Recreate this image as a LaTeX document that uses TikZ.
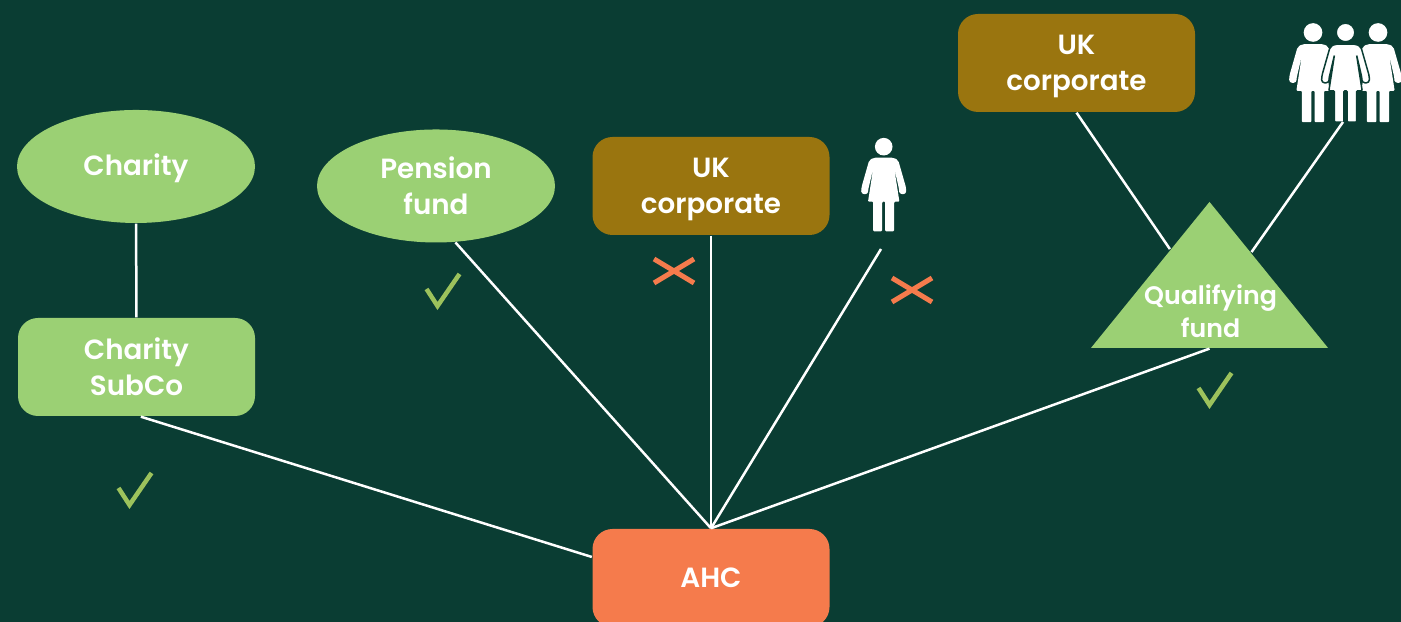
\documentclass[tikz,border=0pt]{standalone}
\usepackage{fontspec}
\setmainfont{Poppins}[BoldFont={Poppins SemiBold}]
\usetikzlibrary{shapes.geometric,calc}
\definecolor{bgcol}{HTML}{0A3D33}
\definecolor{leaf}{HTML}{9BD074}
\definecolor{tickcol}{HTML}{9CC25C}
\definecolor{ochre}{HTML}{9A750F}
\definecolor{coral}{HTML}{F57B4C}
\tikzset{
  lbl/.style={text=white,font=\fontsize{7.9}{10.2}\selectfont\bfseries,align=center,inner sep=0pt,text depth=0pt},
  round/.style={lbl,ellipse,fill=leaf,minimum width=2.38cm,minimum height=1.13cm},
  leafbox/.style={lbl,rectangle,rounded corners=0.2cm,fill=leaf,minimum width=2.37cm,minimum height=0.98cm},
  ochrebox/.style={leafbox,fill=ochre,text depth=-0.05cm},
  coralbox/.style={leafbox,fill=coral,text depth=-0.05cm},
  fundtri/.style={isosceles triangle,shape border rotate=90,isosceles triangle stretches,
    fill=leaf,minimum width=2.37cm,minimum height=1.46cm,inner sep=0pt},
  link/.style={white,line width=0.025cm},
  woman/.pic={
    \path[pic actions] (0,0) circle (0.088);
    \path[pic actions,rounded corners=0.02cm] (-0.10,-0.11)--(0.10,-0.11)--(0.145,-0.135)
      --(0.225,-0.415)[rounded corners=0.03cm]--(0.225,-0.475)--(0.155,-0.475)--(0.155,-0.43)[rounded corners=0.01cm]
      --(0.105,-0.215)--(0.157,-0.55)--(0.105,-0.55)--(0.105,-0.846)--(0.015,-0.846)--(0.015,-0.55)
      --(-0.015,-0.55)--(-0.015,-0.846)--(-0.105,-0.846)--(-0.105,-0.55)--(-0.157,-0.55)--(-0.105,-0.215)
      --(-0.155,-0.43)[rounded corners=0.03cm]--(-0.155,-0.475)--(-0.225,-0.475)--(-0.225,-0.415)
      [rounded corners=0.02cm]--(-0.145,-0.135)--cycle;
  },
  yes/.pic={\draw[tickcol,line width=0.045cm] (-0.11,0.17)--(0,0)--(0.22,0.32);},
  no/.pic={\draw[coral,line width=0.05cm] (-0.2,0.12)--(0.2,-0.12) (-0.2,-0.12)--(0.2,0.12);}
}
\begin{document}
\begin{tikzpicture}
\fill[bgcol] (0,0) rectangle (14.01,6.22);
\useasboundingbox (0,0) rectangle (14.01,6.22);
\clip (0,0) rectangle (14.01,6.22);

% top row
\node[round,text depth=0.04cm] (charity) at (1.36,4.555) {Charity};
\node[round,text depth=-0.03cm] (pension) at (4.36,4.36) {Pension\\fund};
\node[ochrebox] (corpa) at (7.11,4.36) {UK\\corporate};
\node[ochrebox] (corpb) at (10.765,5.59) {UK\\corporate};
\node[leafbox,text depth=-0.02cm] (subco) at (1.365,2.55) {Charity\\SubCo};
\node[coralbox] (ahc) at (7.11,0.44) {AHC};

% fund
\node[fundtri] (fund) at (12.095,3.305) {};
\node[lbl,font=\fontsize{7.2}{9.2}\selectfont\bfseries] (fundlbl) at (12.105,3.11) {Qualifying\\fund};

% people
\pic[fill=white] at (8.837,4.753) {woman};
\pic[fill=white,transform shape,scale=1.06] at (13.13,5.895) {woman};
\pic[fill=white,transform shape,scale=1.06] at (13.78,5.895) {woman};
\pic[fill=white,draw=bgcol,line width=0.015cm,transform shape,scale=1.06] at (13.455,5.895) {woman};
\coordinate (womanfoot) at (8.81,3.73);
\coordinate (crowdfoot) at (13.43,5.0);

% links
\draw[link] (charity)--(subco);
\draw[link] (subco.-85)--(ahc.170);
\draw[link] (pension.-71)--(ahc.north);
\draw[link] (corpa)--(ahc.north);
\draw[link] (womanfoot)--(ahc.north);
\draw[link] (fund.lower side)--(ahc.north);
\draw[link] (corpb.south)--($(fund.apex)!0.33!(fund.left corner)$);
\draw[link] (crowdfoot)--($(fund.apex)!0.35!(fund.right corner)$);

% marks
\pic at (1.295,1.17) {yes};
\pic at (4.375,3.16) {yes};
\pic at (12.095,2.17) {yes};
\pic at (6.74,3.51) {no};
\pic at (9.12,3.32) {no};
\end{tikzpicture}
\end{document}
